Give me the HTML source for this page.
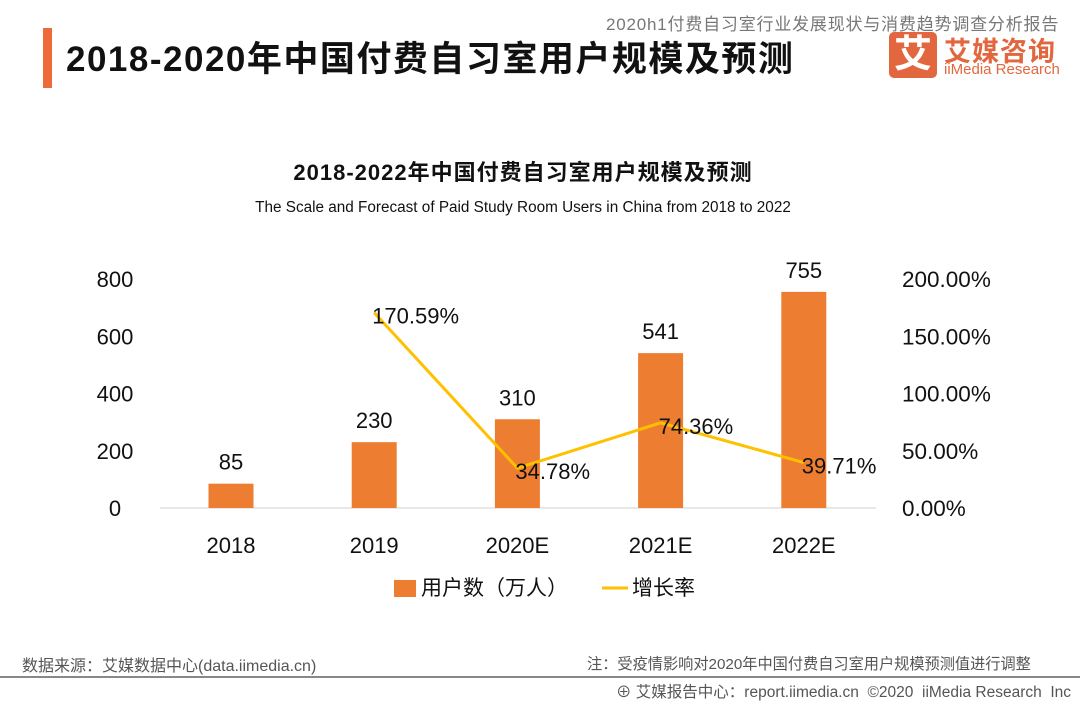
<!DOCTYPE html>
<html><head><meta charset="utf-8"><style>
body{margin:0;width:1080px;height:702px;background:#fff;overflow:hidden;font-family:"Liberation Sans","Noto Sans CJK SC",sans-serif;position:relative}
.a{position:absolute;white-space:nowrap}
</style></head><body>
<div class="a" style="left:43px;top:28px;width:9px;height:60px;background:#ED6B3A"></div>
<div class="a" style="left:66px;top:31px;font-size:35px;font-weight:bold;color:#111;letter-spacing:1.5px">2018-2020年中国付费自习室用户规模及预测</div>
<div class="a" style="left:606px;top:10px;font-size:17px;color:#777;letter-spacing:0.8px">2020h1付费自习室行业发展现状与消费趋势调查分析报告</div>
<div class="a" style="left:889px;top:32px;width:48px;height:46px;background:#E2673E;border-radius:5px;color:#fff;font-size:38px;font-weight:bold;text-align:center;line-height:46px">艾</div>
<div class="a" style="left:944px;top:30px;font-size:27px;font-weight:bold;color:#E2673E;letter-spacing:1px">艾媒咨询</div>
<div class="a" style="left:944px;top:61px;font-size:15px;color:#E2673E">iiMedia Research</div>
<svg class="a" style="left:0;top:0" width="1080" height="702">
<text x="523" y="180" text-anchor="middle" font-size="22" font-weight="bold" fill="#111" letter-spacing="1">2018-2022年中国付费自习室用户规模及预测</text>
<text x="523" y="212" text-anchor="middle" font-size="15.3" fill="#111">The Scale and Forecast of Paid Study Room Users in China from 2018 to 2022</text>
<g id="g"></g>
<rect x="394" y="580" width="22" height="17" fill="#ED7D31"/>
<text x="421" y="595" font-size="21" fill="#111">用户数（万人）</text>
<line x1="602" y1="588" x2="628" y2="588" stroke="#FFC000" stroke-width="3"/>
<text x="632" y="595" font-size="21" fill="#111">增长率</text>
</svg>
<div class="a" style="left:22px;top:652px;font-size:16px;color:#555">数据来源：艾媒数据中心(data.iimedia.cn)</div>
<div class="a" style="left:587px;top:652px;font-size:15.2px;color:#555">注：受疫情影响对2020年中国付费自习室用户规模预测值进行调整</div>
<div class="a" style="left:0;top:676px;width:1080px;height:2px;background:#888"></div>
<div class="a" style="left:616px;top:680px;font-size:15.5px;color:#555">⊕ 艾媒报告中心：report.iimedia.cn &nbsp;©2020 &nbsp;iiMedia Research &nbsp;Inc</div>
<script>
const categories=["2018","2019","2020E","2021E","2022E"];
const users=[85,230,310,541,755];
const growth=[null,170.59,34.78,74.36,39.71];
const leftTicks=[0,200,400,600,800];
const rightTicks=[0,50,100,150,200];
const NS="http://www.w3.org/2000/svg",g=document.getElementById("g");
const y0=508,h=229;
const yL=v=>y0-v/800*h, yR=v=>y0-v/200*h, x=i=>231+i*143.2;
function el(t,a,txt){const e=document.createElementNS(NS,t);for(const k in a)e.setAttribute(k,a[k]);if(txt!=null)e.textContent=txt;g.appendChild(e);return e;}
leftTicks.forEach(v=>{const e=el("text",{x:115,y:yL(v)+8,"text-anchor":"middle","font-size":22,fill:"#111"},v);

});
rightTicks.forEach(v=>{const e=el("text",{x:902,y:yR(v)+8,"font-size":22.5,fill:"#111"},v.toFixed(2)+"%");

});
const ax=el("line",{x1:160,x2:876,y1:y0,y2:y0,stroke:"#d0d0d0","stroke-width":1});


categories.forEach((c,i)=>{
const b=el("rect",{x:x(i)-22.5,y:yL(users[i]),width:45,height:y0-yL(users[i]),fill:"#ED7D31"});


const l=el("text",{x:x(i),y:yL(users[i])-14,"text-anchor":"middle","font-size":22,fill:"#111"},users[i]);


const t=el("text",{x:x(i),y:553,"text-anchor":"middle","font-size":22,fill:"#111"},c);


});
let pts=[];growth.forEach((v,i)=>{if(v!=null)pts.push(x(i)+","+yR(v));});
const pl=el("polyline",{points:pts.join(" "),fill:"none",stroke:"#FFC000","stroke-width":3});


growth.forEach((v,i)=>{if(v==null)return;
const t=el("text",{x:x(i)-2,y:yR(v)+11,"font-size":22,fill:"#111"},v.toFixed(2)+"%");

});
</script>
</body></html>
